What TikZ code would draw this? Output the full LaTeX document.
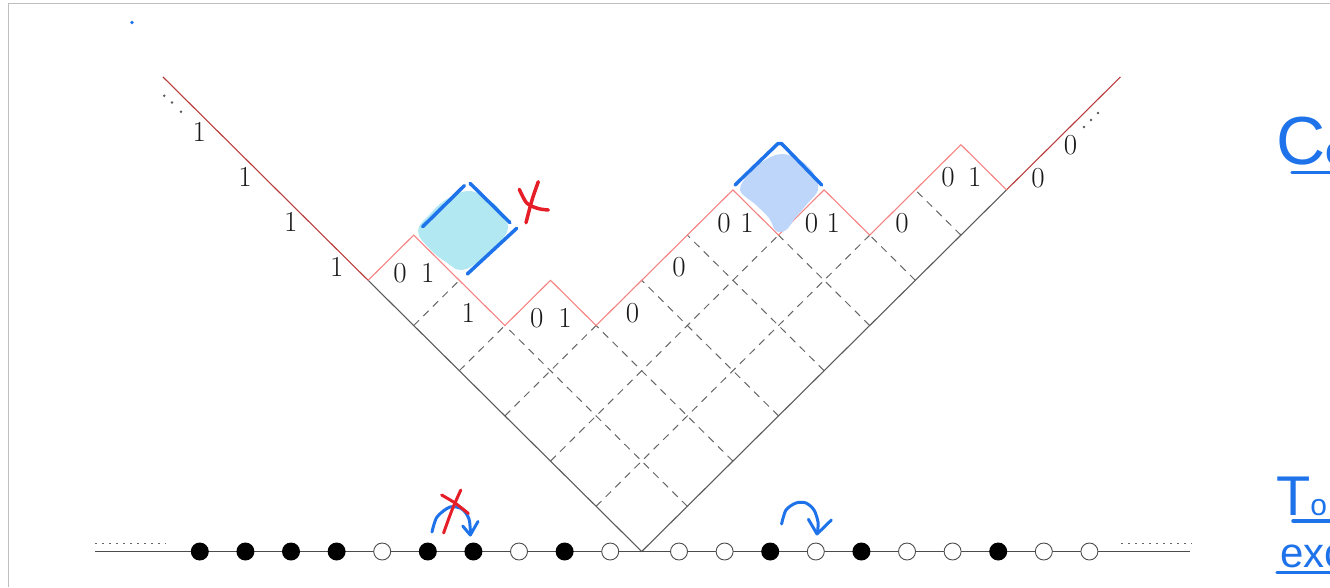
\documentclass[tikz,border=0pt]{standalone}
\usepackage{fontspec}
\newfontfamily\handfont{Liberation Sans}
\definecolor{pen}{RGB}{30,115,235}
\definecolor{redpen}{RGB}{230,30,40}
\definecolor{cyanblob}{RGB}{178,232,242}
\definecolor{blueblob}{RGB}{190,214,250}
\definecolor{extred}{RGB}{185,60,60}
\definecolor{profred}{RGB}{245,130,130}
\begin{document}
\begin{tikzpicture}[x=1pt,y=-1pt,
  framel/.style={draw=black!25,line width=0.8pt},
  vline/.style={draw=black!65,line width=1.1pt},
  prof/.style={draw=profred,line width=1.1pt},
  ext/.style={draw=extred,line width=1.1pt},
  gridl/.style={draw=black!60,line width=1pt,dash pattern=on 7.5pt off 6pt},
  baseln/.style={draw=black!70,line width=1pt},
  dotln/.style={draw=black!60,line width=1.6pt,dash pattern=on 1.6pt off 5.4pt},
  lab/.style={font=\fontsize{29}{31}\selectfont,inner sep=0pt,text=black!90},
  full/.style={circle,fill=black,inner sep=0pt,minimum size=18pt},
  hole/.style={circle,draw=black!70,line width=0.9pt,fill=white,inner sep=0pt,minimum size=17pt},
  penl/.style={draw=pen,line width=3.5pt,line cap=round,line join=round},
  redl/.style={draw=redpen,line width=3.5pt,line cap=round,line join=round},
  hand/.style={text=pen,inner sep=0pt,font=\handfont},
]
\useasboundingbox (0,0) rectangle (1330,587);
\clip (0,0) rectangle (1330,587);
% frame
\coordinate (f1) at (8,587);
\coordinate (f2) at (8,3.5);
\coordinate (f3) at (1330,3.5);
\draw[framel] (f1) -- (f2) -- (f3);
% lattice coordinates
\foreach \a in {0,...,8}{
  \foreach \b in {0,...,6}{
    \coordinate (g-\a-\b) at ({641.7+45.6*(\a-\b)},{551.5-45.2*(\a+\b)});
  }
}
\coordinate (Ltop) at ({641.7-45.6*10.5},{551.5-45.2*10.5});
\coordinate (Rtop) at ({641.7+45.6*10.5},{551.5-45.2*10.5});
% dashed grid
\foreach \k/\t in {1/4,2/3,3/3,4/3,5/2,6/1,7/1}{
  \draw[gridl] (g-\k-0) -- (g-\k-\t);
}
\foreach \k/\t in {1/6,2/5,3/2,4/1,5/1}{
  \draw[gridl] (g-0-\k) -- (g-\t-\k);
}
% V boundary
\draw[vline] (g-0-6) -- (g-0-0) -- (g-8-0);
\draw[ext] (g-0-6) -- (Ltop);
\draw[ext] (g-8-0) -- (Rtop);
% profile
\draw[prof] (g-0-6) -- (g-1-6) -- (g-1-5) -- (g-1-4) -- (g-2-4) -- (g-2-3) -- (g-3-3)
  -- (g-4-3) -- (g-5-3) -- (g-5-2) -- (g-6-2) -- (g-6-1) -- (g-7-1) -- (g-8-1) -- (g-8-0);
% dots at the ends of the V
\foreach \x/\y in {164.3/95.7,172/102.5,181/111.7,1084/127,1091/120,1098/113}{
  \fill[black!65] (\x,\y) circle (1.4);
}
% labels
\foreach \n/\x/\y/\t in {1/199.3/131.7/1, 2/245/176.7/1, 3/290.7/221.7/1, 4/336.7/266.7/1,
  5/400/273/0, 6/427.7/273/1, 7/468.3/313.3/1, 8/536.7/318.3/0, 9/565/318.3/1,
  10/632.5/313.3/0, 11/679/266.7/0, 12/724.1/223.3/0, 13/747.1/223.3/1,
  14/811.4/223.3/0, 15/833.2/223.3/1, 16/902.1/223.3/0, 17/948/176.7/0,
  18/974.8/176.7/1, 19/1038/178.3/0, 20/1070.5/145/0}{
  \node[lab] (l\n) at (\x,\y) {\t};
}
% bottom line with particles
\coordinate (BL) at (95,551.5);
\coordinate (BR) at (1190,551.5);
\draw[baseln] (BL) -- (BR);
\coordinate (dl1) at (95,543.5);
\coordinate (dl2) at (166,543.5);
\coordinate (dr1) at (1121,543.5);
\coordinate (dr2) at (1192,543.5);
\draw[dotln] (dl1) -- (dl2);
\draw[dotln] (dr1) -- (dr2);
\foreach \s [count=\i from 0] in {full,full,full,full,hole,full,full,hole,full,hole}{
  \node[\s] (pl\i) at ({199.8+45.6*\i},551.5) {};
}
\foreach \s [count=\i from 0] in {hole,hole,full,hole,full,hole,hole,full,hole,hole}{
  \node[\s] (pr\i) at ({679+45.6*\i},551.5) {};
}
% ---- handwritten annotations ----
\fill[pen] (132,22.5) circle (1.8);
% cyan blob
\fill[cyanblob] plot[smooth cycle,tension=0.7] coordinates {(418,231) (430,214) (447,199) (468,191)
  (486,198) (500,210) (508,228) (497,245) (482,259) (462,270) (446,262) (430,249)};
\draw[penl] (422.7,226.7) -- (464.3,185.7);
\draw[penl] (470,183.3) -- (510,222.7);
\draw[penl] (516.7,228.3) -- (467.3,274);
\draw[redl] plot[smooth] coordinates {(538.3,181.7) (532,200) (526,222.7)};
\draw[redl] plot[smooth] coordinates {(519.3,189.3) (526.7,203) (538,208.5) (548.3,210)};
% blue blob
\fill[blueblob] plot[smooth cycle,tension=0.6] coordinates {(740,190) (750,173) (765,160) (782,154)
  (800,160) (814,174) (818,190) (807,204) (796,217) (786,230) (776,231) (769,218) (756,205)};
\draw[penl] (735,185) -- (778,143.5) -- (781.5,143.5) -- (821.7,185);
% bottom left arc with arrow and cross
\draw[penl,line width=3pt] plot[smooth] coordinates {(432,532) (437,517) (450,507) (462,509) (469,519) (470.5,534)};
\draw[penl,line width=3pt] (462.7,526) -- (470.3,535) -- (478,521.5);
\draw[redl,line width=3pt] plot[smooth] coordinates {(460.8,490) (452,510) (443.6,533)};
\draw[redl,line width=3pt] plot[smooth] coordinates {(441.6,495) (455,503) (468.4,513.5)};
% bottom right arc with arrow
\draw[penl,line width=3pt] plot[smooth] coordinates {(781.6,524) (786,510) (796,503) (806,503) (814,510) (818,522) (817.5,532)};
\draw[penl,line width=3pt] (808.4,519.3) -- (817,534) -- (831.4,520);
% right margin text
\node[hand,anchor=base west] (co) at (1276,164) {\fontsize{68}{70}\selectfont C\fontsize{40}{42}\selectfont o};
\node[hand,anchor=base west] (to) at (1276,515) {\fontsize{56}{58}\selectfont T\fontsize{30}{32}\selectfont o};
\node[hand,anchor=base west] (ex) at (1280,567) {\fontsize{42}{44}\selectfont exc};
\coordinate (u1a) at (1292,172.7); \coordinate (u1b) at (1335,172.7);
\coordinate (u2a) at (1293,521);   \coordinate (u2b) at (1335,521);
\coordinate (u3a) at (1277,572.7); \coordinate (u3b) at (1335,572.7);
\draw[penl] (u1a) -- (u1b);
\draw[penl] (u2a) -- (u2b);
\draw[penl] (u3a) -- (u3b);
\end{tikzpicture}
\end{document}
